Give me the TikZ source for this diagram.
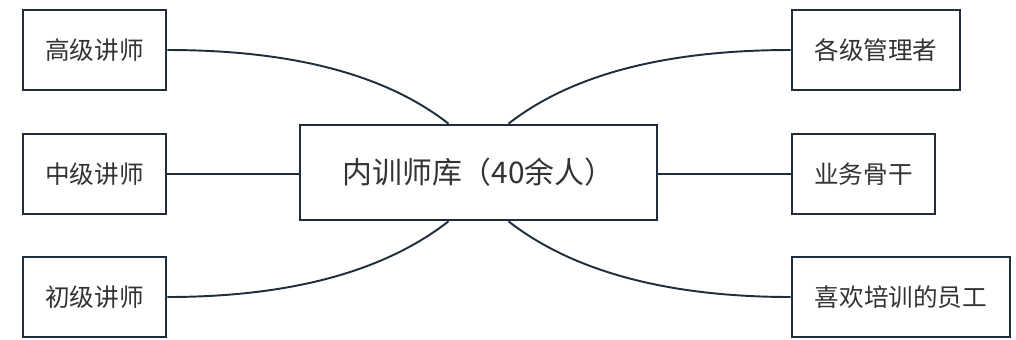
\documentclass[tikz,border=0pt]{standalone}
\usepackage{fontspec}
\setmainfont{Noto Sans CJK SC}
\definecolor{linecol}{HTML}{1F2D3D}
\definecolor{textcol}{HTML}{333333}
\tikzset{
  leafbox/.style={draw=linecol, line width=1.5pt, text=textcol, font=\fontsize{14}{16}\selectfont,
    minimum height=1.6cm, inner sep=0pt},
  poolbox/.style={draw=linecol, line width=1.5pt, text=textcol, font=\fontsize{17}{20}\selectfont,
    minimum width=7.14cm, minimum height=1.9cm, inner sep=0pt},
  link/.style={draw=linecol, line width=1.1pt},
  archlink/.style={out distance=2.5cm, in distance=1.6cm}
}
\begin{document}
\begin{tikzpicture}[x=0.02cm, y=-0.02cm]
    \useasboundingbox (0,0) rectangle (1016,339);

    % centre
    \node[poolbox] (pool) at (478.5,172.5) {内训师库（40余人）};

    % left side
    \node[leafbox, minimum width=2.86cm] (senior) at (94.5,50) {高级讲师};
    \node[leafbox, minimum width=2.86cm] (middle) at (94.5,174) {中级讲师};
    \node[leafbox, minimum width=2.86cm] (junior) at (94.5,297) {初级讲师};

    % right side
    \node[leafbox, minimum width=3.36cm] (manager) at (876,50) {各级管理者};
    \node[leafbox, minimum width=2.86cm] (backbone) at (863.5,174) {业务骨干};
    \node[leafbox, minimum width=4.36cm] (staff) at (901,297) {喜欢培训的员工};

    \draw[link] (senior.east) to[out=0, in=142, archlink] ([xshift=-0.6cm]pool.north);
    \draw[link] (middle.east) -- (pool.west |- middle.east);
    \draw[link] (junior.east) to[out=0, in=-142, archlink] ([xshift=-0.6cm]pool.south);

    \draw[link] (manager.west) to[out=180, in=38, archlink] ([xshift=0.6cm]pool.north);
    \draw[link] (backbone.west) -- (pool.east |- backbone.west);
    \draw[link] (staff.west) to[out=180, in=-38, archlink] ([xshift=0.6cm]pool.south);
\end{tikzpicture}
\end{document}
